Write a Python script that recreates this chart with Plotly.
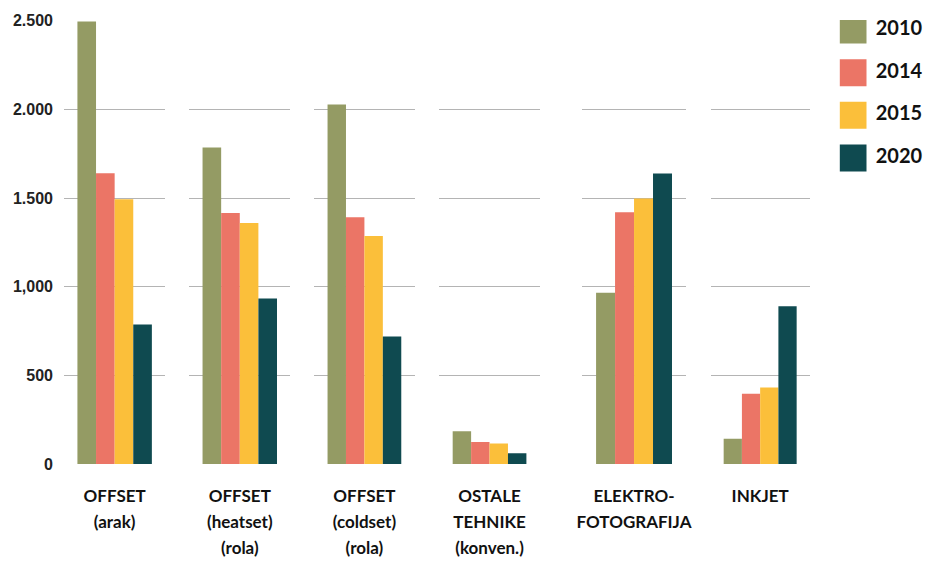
import plotly.graph_objects as go

categories = ['OFFSET<br>(arak)', 'OFFSET<br>(heatset)<br>(rola)', 'OFFSET<br>(coldset)<br>(rola)',
              'OSTALE<br>TEHNIKE<br>(konven.)', 'ELEKTRO-<br>FOTOGRAFIJA', 'INKJET']
years = ['2010', '2014', '2015', '2020']
colors = ['#949b64', '#eb7566', '#fbbf3a', '#0f4a50']

v2010 = [2495, 1785, 2028, 184, 966, 143]
v2014 = [1640, 1416, 1392, 124, 1420, 396]
v2015 = [1493, 1359, 1286, 115, 1497, 432]
v2020 = [787, 934, 719, 60, 1638, 890]
values = [v2010, v2014, v2015, v2020]

y_ticks = [0, 500, 1000, 1500, 2000, 2500]
y_ticktext = ['0', '500', '1,000', '1.500', '2.000', '2.500']

# page body adds 8px, so the figure is drawn 8px smaller
W, H, L = 925, 557, 56
seg_px = [(56, 158), (182, 284), (308, 409), (434, 535), (578, 682), (707, 807)]
plot_w = W - L


def label(txt):
    # smaller glyphs inside a bigger base font, for wider line spacing
    return '<br>'.join('<span style="font-size:17px">%s</span>' % p for p in txt.split('<br>'))


fig = go.Figure()
layout = {}
for i, cat in enumerate(categories):
    n = '' if i == 0 else str(i + 1)
    for j, yr in enumerate(years):
        fig.add_trace(go.Bar(
            x=[cat], y=[values[j][i]], name=yr,
            marker=dict(color=colors[j], line=dict(width=0)),
            xaxis='x' + n, yaxis='y' + n, showlegend=False,
        ))
    a, b = seg_px[i]
    layout['xaxis' + n] = dict(
        domain=[(a - L) / plot_w, (b - L) / plot_w], anchor='y' + n,
        showgrid=False, showline=False, zeroline=False, ticks='',
        tickvals=[cat], ticktext=[label(cat)], ticklabelstandoff=17,
        tickfont=dict(family='Lato', size=20, color='#111111', weight='bold'),
    )
    layout['yaxis' + n] = dict(
        anchor='x' + n, range=[0, 2504], tickvals=y_ticks, ticktext=y_ticktext,
        showticklabels=(i == 0), showgrid=True, gridcolor='#b4b4b4', gridwidth=1,
        zeroline=False, showline=False, ticklabelstandoff=10,
        tickfont=dict(family='Liberation Sans', size=16, color='#222222', weight='bold'),
    )

# legend drawn as its own hidden axis so the swatches can be large squares
fig.add_trace(go.Scatter(
    x=[0] * len(years), y=list(range(len(years))), mode='markers+text',
    text=[' ' + y for y in years], textposition='middle right',
    textfont=dict(family='Lato', size=20, color='#111111', weight='bold'),
    marker=dict(symbol='square', size=27, color=colors, line=dict(width=0)),
    xaxis='x7', yaxis='y7', showlegend=False, hoverinfo='skip',
))
layout['xaxis7'] = dict(domain=[(845 - 64) / plot_w, 1], anchor='y7', range=[-0.5, 2.76],
                        visible=False)
layout['yaxis7'] = dict(anchor='x7', range=[10.17, -0.234], visible=False)

fig.update_layout(
    **layout,
    barmode='group', bargap=0.265, bargroupgap=0,
    width=W, height=H,
    margin=dict(l=L, r=0, t=12, b=101),
    plot_bgcolor='white', paper_bgcolor='white',
    showlegend=False,
)

fig.write_html('out.html')
